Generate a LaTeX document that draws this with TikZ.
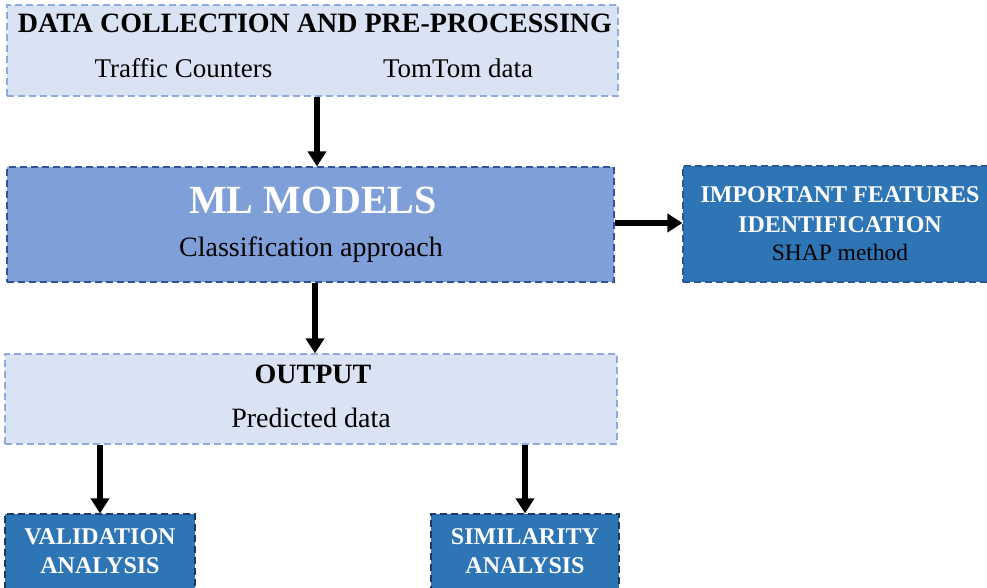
\documentclass[tikz,border=0pt]{standalone}
\usepackage{fontspec}
\setmainfont{Liberation Serif}
\usetikzlibrary{arrows.meta}

\definecolor{paleblue}{HTML}{DAE3F3}
\definecolor{paleedge}{HTML}{8FAADC}
\definecolor{midblue}{HTML}{7F9FD8}
\definecolor{midedge}{HTML}{2F5597}
\definecolor{deepblue}{HTML}{2E75B6}
\definecolor{navyedge}{HTML}{1F3864}

\tikzset{
    box/.style={rectangle, inner sep=0pt, line width=1.2pt, dash pattern=on 7pt off 4pt},
    palebox/.style={box, draw=paleedge, fill=paleblue},
    midbox/.style={box, draw=midedge, fill=midblue},
    deepbox/.style={box, draw=midedge, fill=deepblue},
    flow/.style={line width=5.5pt, -{Triangle[length=15pt,width=18pt]}},
    txt/.style={anchor=base, inner sep=0pt, font=\fontsize{27}{30}\selectfont},
    head/.style={txt, font=\fontsize{28}{30}\selectfont\bfseries},
    whitehead/.style={txt, text=white, font=\fontsize{24}{28}\selectfont\bfseries},
    small/.style={txt, font=\fontsize{23.5}{28}\selectfont}
}

\begin{document}
\begin{tikzpicture}[x=1pt,y=-1pt] %flujo: datos -> modelos -> salida
    \useasboundingbox (0,0) rectangle (987,588);

    % cajas
    \node[palebox, minimum width=611pt, minimum height=91pt] (data) at (312.5,50.5) {};
    \node[midbox, minimum width=607pt, minimum height=115pt] (ml) at (310.5,224.5) {};
    \node[deepbox, minimum width=309pt, minimum height=116pt] (feat) at (837.5,224) {};
    \node[palebox, minimum width=612pt, minimum height=90pt] (out) at (311,399) {};
    \node[deepbox, draw=navyedge, minimum width=190pt, minimum height=80pt] (valid) at (100,554) {};
    \node[deepbox, draw=navyedge, minimum width=188pt, minimum height=80pt] (simil) at (525,554) {};

    % textos
    \node[head] (datatitle) at (315,33) {DATA COLLECTION AND PRE-PROCESSING};
    \node[txt] (counters) at (183.5,78) {Traffic Counters};
    \node[txt] (tomtom) at (458,78) {TomTom data};

    \node[txt, text=white, font=\fontsize{40}{44}\selectfont\bfseries] (mltitle) at (313,213) {ML MODELS};
    \node[txt, font=\fontsize{28}{30}\selectfont] (classif) at (311,256) {Classification approach};

    \node[whitehead] (feat1) at (840,203) {IMPORTANT FEATURES};
    \node[whitehead] (feat2) at (840,232) {IDENTIFICATION};
    \node[small] (shap) at (840,260) {SHAP method};

    \node[head] (outtitle) at (313,383) {OUTPUT};
    \node[txt, font=\fontsize{28}{30}\selectfont] (pred) at (311,427) {Predicted data};

    \node[whitehead] (valid1) at (100,544) {VALIDATION};
    \node[whitehead] (valid2) at (100,573) {ANALYSIS};
    \node[whitehead] (simil1) at (525,544) {SIMILARITY};
    \node[whitehead] (simil2) at (525,573) {ANALYSIS};

    % flechas
    \draw[flow] ([xshift=4.5pt]data.south) -- ([xshift=4.5pt]data.south |- ml.north);
    \draw[flow] ([xshift=4.5pt]ml.south) -- ([xshift=4.5pt]ml.south |- out.north);
    \draw[flow] (ml.east |- 0,223) -- (feat.west |- 0,223);
    \draw[flow] (valid.north |- out.south) -- (valid.north);
    \draw[flow] (simil.north |- out.south) -- (simil.north);
\end{tikzpicture}
\end{document}
